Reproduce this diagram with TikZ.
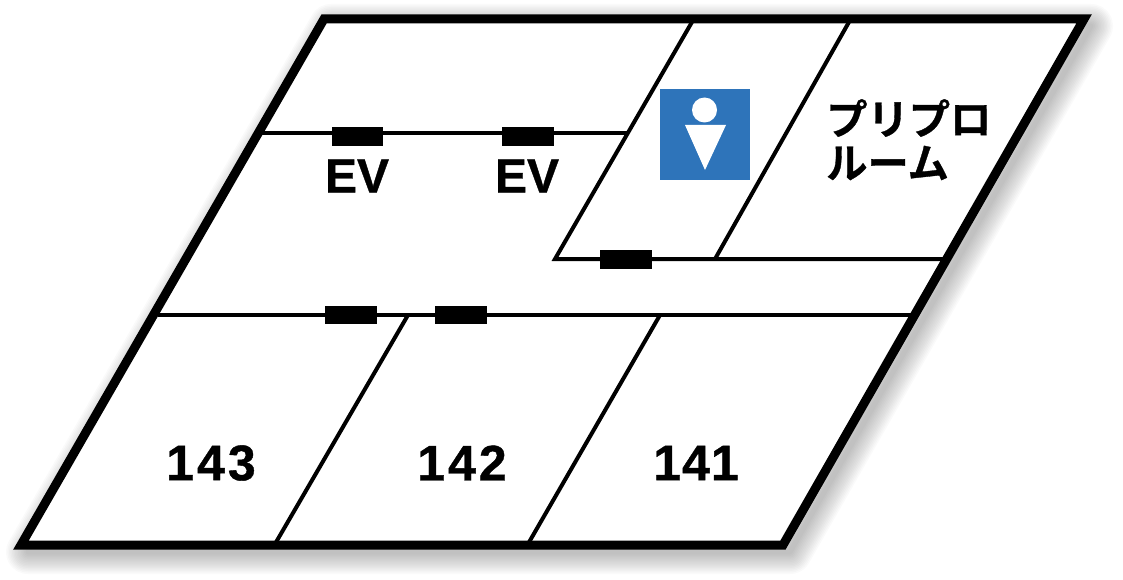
\documentclass[tikz,border=0pt]{standalone}
\usepackage{fontspec}
\newfontfamily\jpfont{Noto Sans CJK JP Bold}[FakeBold=0.8]
\newfontfamily\lafont{Liberation Sans Bold}[FakeBold=0.8]
\newfontfamily\numfont{Liberation Sans Bold}[FakeBold=0.8,LetterSpace=6]
\newfontfamily\numtightfont{Liberation Sans Bold}[FakeBold=0.8,LetterSpace=2]
\definecolor{toiletblue}{HTML}{2E74BA}
\tikzset{
  x=1pt,y=-1pt,
  wall/.style={draw=black,line width=4pt},
  outerwall/.style={draw=black,line width=9pt,miter limit=10},
  door/.style={fill=black,draw=none},
  lab/.style={font=\lafont\fontsize{48}{48}\selectfont,inner sep=0pt,text=black},
  num/.style={font=\numfont\fontsize{50}{50}\selectfont,inner sep=0pt,text=black},
  numtight/.style={font=\numtightfont\fontsize{50}{50}\selectfont,inner sep=0pt,text=black},
  jp/.style={font=\jpfont\fontsize{41.3}{41.3}\selectfont,inner sep=0pt,text=black,anchor=west},
}
\begin{document}
\begin{tikzpicture}
\useasboundingbox (0,0) rectangle (1123,580);
% soft shadow
\foreach \w in {44,41,...,5}{
  \draw[black,opacity=0.02,line width=\w pt,line join=round]
    (331,26)--(1091,26)--(790,552)--(28,552)--cycle;
}
\fill[white] (324,19)--(1084,19)--(783,545)--(21,545)--cycle;
% interior walls
\draw[wall] (261,133)--(628,133);
\draw[wall] (692,22)--(555,259)--(946,259);
\draw[wall] (849,22)--(715,259);
\draw[wall] (158,315)--(914,315);
\draw[wall] (408,315)--(275,544);
\draw[wall] (660,315)--(528,544);
% outer wall
\draw[outerwall] (324,19)--(1084,19)--(783,545)--(21,545)--cycle;
% doors
\fill[door] (332,127) rectangle (383,146);
\fill[door] (502,127) rectangle (554,146);
\fill[door] (600,250) rectangle (652,269);
\fill[door] (325,306) rectangle (377,324);
\fill[door] (435,306) rectangle (487,324);
% toilet sign
\fill[toiletblue] (660,89) rectangle (750,180);
\fill[white] (704.5,110) circle (12.5);
\fill[white] (685,125)--(726,125)--(705,170)--cycle;
% labels
\node[lab] (ev1) at (357,176) {EV};
\node[lab] (ev2) at (527,176) {EV};
\node[jp] (pp1) at (826,118) {プリプロ};
\node[jp] (pp2) at (826,163) {ルーム};
\node[num] (r143) at (211,463) {143};
\node[num] (r142) at (462,463) {142};
\node[numtight] (r141) at (696,463) {141};
\end{tikzpicture}
\end{document}
